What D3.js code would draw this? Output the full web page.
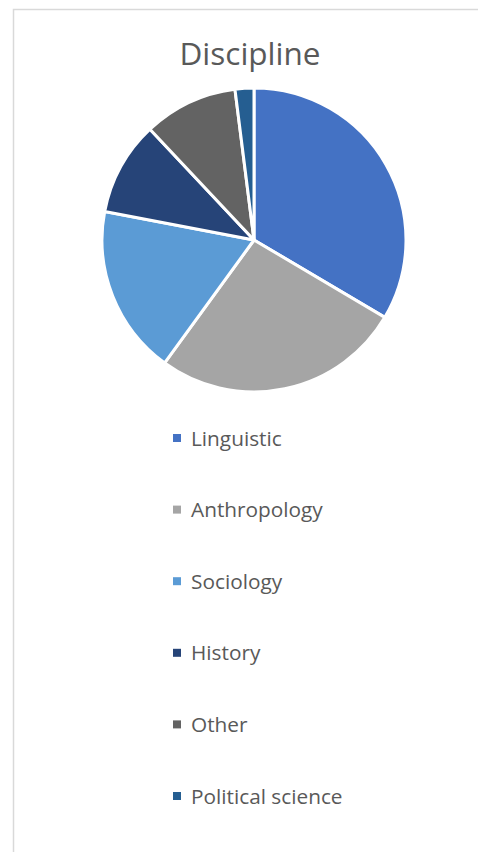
<!DOCTYPE html>
<html><head><meta charset="utf-8">
<script src="https://cdn.jsdelivr.net/npm/d3@7"></script>
<style>html,body{margin:0;padding:0;background:#fff;overflow:hidden}</style>
</head><body>
<svg id="chart" width="478" height="852"></svg>
<script>
const title = "Discipline";
const categories = ["Linguistic","Anthropology","Sociology","History","Other","Political science"];
const values = [33.5, 26.5, 18, 10, 10, 2];
const colors = ["#4472C4","#A5A5A5","#5B9BD5","#264478","#636363","#255E91"];

const svg = d3.select("#chart");
const font = "'Open Sans', sans-serif";

// frame
svg.append("path").attr("d","M13.5,852 L13.5,9.5 L478,9.5")
  .attr("fill","none").attr("stroke","#d9d9d9").attr("stroke-width",1.5);

svg.append("text").attr("x",250).attr("y",65).attr("text-anchor","middle")
  .attr("font-family",font).attr("font-size",31.5).attr("fill","#595959").text(title);

const data = categories.map((c,i)=>({c, v: values[i], col: colors[i]}));
const pie = d3.pie().value(d=>d.v).sort(null);
const arc = d3.arc().innerRadius(0).outerRadius(152);
const g = svg.append("g").attr("transform","translate(254,240)");
g.selectAll("path").data(pie(data)).join("path")
  .attr("d",arc).attr("fill",d=>d.data.col)
  .attr("stroke","#fff").attr("stroke-width",3).attr("stroke-linejoin","round");

const y = d3.scalePoint().domain(categories).range([438,796]);
const leg = svg.append("g").selectAll("g").data(data).join("g")
  .attr("transform",d=>`translate(173,${y(d.c)})`);
leg.append("rect").attr("x",0).attr("y",-4).attr("width",8).attr("height",8).attr("fill",d=>d.col);
leg.append("text").attr("x",18).attr("y",0).attr("dy","0.36em")
  .attr("font-family",font).attr("font-size",20.8).attr("fill","#595959").text(d=>d.c);
</script>
</body></html>
